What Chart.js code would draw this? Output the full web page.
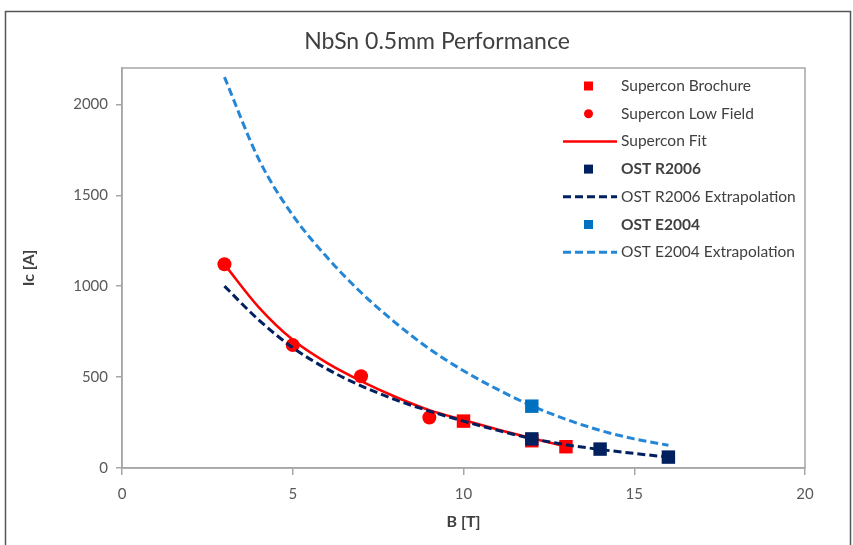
<!DOCTYPE html>
<html>
<head>
<meta charset="utf-8">
<script src="https://cdn.jsdelivr.net/npm/chart.js@4"></script>
<style>
  html, body { margin: 0; padding: 0; background: #fff; }
  #wrap { width: 853px; height: 545px; }
</style>
</head>
<body>
<div id="wrap"><canvas id="chart1" width="853" height="545"></canvas></div>
<script>
// values
var brochureB = [10, 12, 13];
var brochureIc = [258, 150, 117];

var lowFieldB = [3, 5, 7, 9];
var lowFieldIc = [1121, 676, 505, 278];

var fitB = [3, 4, 5, 6, 7, 8, 9, 10, 11, 12, 13];
var fitIc = [1120, 885, 705, 578, 478, 392, 318, 264, 212, 164, 118];

var r2006B = [12, 14, 16];
var r2006Ic = [160, 104, 60];

var r2006ExtB = [3, 4, 5, 6, 7, 8, 9, 10, 11, 12, 13, 14, 15, 16];
var r2006ExtIc = [1000, 815, 662, 545, 452, 376, 313, 258, 207, 162, 128, 102, 80, 60];

var e2004B = [12];
var e2004Ic = [340];

var e2004ExtB = [3, 4, 5, 6, 7, 8, 9, 10, 11, 12, 13, 14, 15, 16];
var e2004ExtIc = [2150, 1700, 1390, 1160, 965, 800, 655, 535, 432, 342, 268, 207, 160, 125];

var xTicks = [0, 5, 10, 15, 20];
var yTicks = [0, 500, 1000, 1500, 2000];

var chartTitle = 'NbSn 0.5mm Performance';

function pts(xs, ys) {
  var out = [];
  for (var i = 0; i < xs.length; i++) out.push({ x: xs[i], y: ys[i] });
  return out;
}

var FONT = "Lato, 'Open Sans', sans-serif";

// frame round the whole chart, title, box round the plot area, and the legend
var decor = {
  id: 'decor',
  beforeDraw: function (chart) {
    var c = chart.ctx;
    c.save();
    c.fillStyle = '#fff';
    c.fillRect(0, 0, chart.width, chart.height);
    c.strokeStyle = '#555';
    c.lineWidth = 1.5;
    c.strokeRect(5.5, 11.5, 845, 560);
    c.fillStyle = '#404040';
    c.font = '23px ' + FONT;
    c.textAlign = 'center';
    c.textBaseline = 'middle';
    c.fillText(chartTitle, 437, 42);
    c.restore();
  },
  afterDraw: function (chart) {
    var c = chart.ctx;
    var a = chart.chartArea;
    c.save();
    c.strokeStyle = '#a6a6a6';
    c.lineWidth = 1.5;
    c.strokeRect(a.left, a.top, a.right - a.left, a.bottom - a.top);

    // legend
    var rowY = 86, step = 27.7;
    chart.data.datasets.forEach(function (ds, i) {
      var y = rowY + i * step;
      if (ds.showLine) {
        c.beginPath();
        c.strokeStyle = ds.borderColor;
        c.lineWidth = ds.borderWidth;
        c.setLineDash(ds.borderDash || []);
        c.moveTo(563, y);
        c.lineTo(617, y);
        c.stroke();
        c.setLineDash([]);
      } else {
        c.fillStyle = ds.backgroundColor;
        if (ds.pointStyle === 'rect') {
          c.fillRect(584, y - 4.5, 9, 9);
        } else {
          c.beginPath();
          c.arc(588.5, y, 4.5, 0, Math.PI * 2);
          c.fill();
        }
      }
      c.fillStyle = '#404040';
      c.font = (ds.legendBold ? 'bold ' : '') + '15.5px ' + FONT;
      c.textBaseline = 'middle';
      c.textAlign = 'left';
      c.fillText(ds.label, 621, y);
    });
    c.restore();
  }
};

var RED = '#ff0000', NAVY = '#002060', BLUE = '#0070c0', LBLUE = '#2486d6';

new Chart(document.getElementById('chart1'), {
  type: 'scatter',
  data: {
    datasets: [
      { label: 'Supercon Brochure', data: pts(brochureB, brochureIc), pointStyle: 'rect',
        pointRadius: 9.5, backgroundColor: RED, borderColor: RED, borderWidth: 0, order: 7 },
      { label: 'Supercon Low Field', data: pts(lowFieldB, lowFieldIc), pointStyle: 'circle',
        pointRadius: 7, backgroundColor: RED, borderColor: RED, borderWidth: 0, order: 6 },
      { label: 'Supercon Fit', data: pts(fitB, fitIc), showLine: true, pointRadius: 0,
        borderColor: RED, backgroundColor: RED, borderWidth: 2.5, cubicInterpolationMode: 'monotone', order: 5 },
      { label: 'OST R2006', legendBold: true, data: pts(r2006B, r2006Ic), pointStyle: 'rect',
        pointRadius: 9.5, backgroundColor: NAVY, borderColor: NAVY, borderWidth: 0, order: 2 },
      { label: 'OST R2006 Extrapolation', data: pts(r2006ExtB, r2006ExtIc), showLine: true, pointRadius: 0,
        borderColor: NAVY, backgroundColor: NAVY, borderWidth: 3, borderDash: [8, 4],
        cubicInterpolationMode: 'monotone', order: 4 },
      { label: 'OST E2004', legendBold: true, data: pts(e2004B, e2004Ic), pointStyle: 'rect',
        pointRadius: 9.5, backgroundColor: BLUE, borderColor: BLUE, borderWidth: 0, order: 1 },
      { label: 'OST E2004 Extrapolation', data: pts(e2004ExtB, e2004ExtIc), showLine: true, pointRadius: 0,
        borderColor: LBLUE, backgroundColor: LBLUE, borderWidth: 3, borderDash: [8, 4],
        cubicInterpolationMode: 'monotone', order: 3 }
    ]
  },
  options: {
    responsive: false,
    animation: false,
    layout: { padding: { left: 0, right: 48, top: 68, bottom: 0 } },
    plugins: {
      legend: { display: false },
      tooltip: { enabled: false },
      title: { display: false }
    },
    scales: {
      x: {
        type: 'linear',
        min: 0, max: 20,
        afterFit: function (s) { s.height = 77; },
        afterBuildTicks: function (s) { s.ticks = xTicks.map(function (v) { return { value: v }; }); },
        grid: { drawOnChartArea: false, drawTicks: true, tickLength: 7, color: '#a6a6a6', lineWidth: 1.5 },
        border: { color: '#a6a6a6', width: 1.5 },
        ticks: { color: '#595959', padding: 10, font: { family: FONT, size: 15 },
          callback: function (v) { return String(v); } },
        title: { display: true, text: 'B [T]', color: '#404040',
          font: { family: FONT, size: 16, weight: 'bold' }, padding: { top: 4, bottom: 14 } }
      },
      y: {
        type: 'linear',
        min: 0, max: 2200,
        afterFit: function (s) { s.width = 122; },
        afterBuildTicks: function (s) { s.ticks = yTicks.map(function (v) { return { value: v }; }); },
        grid: { drawOnChartArea: false, drawTicks: true, tickLength: 6, color: '#a6a6a6', lineWidth: 1.5 },
        border: { color: '#a6a6a6', width: 1.5 },
        ticks: { color: '#595959', padding: 8, font: { family: FONT, size: 15 },
          callback: function (v) { return String(v); } },
        title: { display: true, text: 'Ic [A]', color: '#404040',
          font: { family: FONT, size: 16, weight: 'bold' }, padding: { top: 19, bottom: 4 } }
      }
    }
  },
  plugins: [decor]
});
</script>
</body>
</html>
